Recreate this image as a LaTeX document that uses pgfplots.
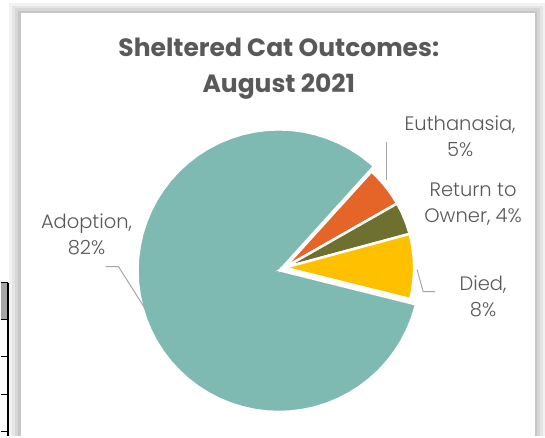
\documentclass[border=0pt]{standalone}
\usepackage{pgfplots}
\pgfplotsset{compat=1.18}
\usepgfplotslibrary{polar}
\usepackage{fontspec}
\setmainfont{Poppins}
\newfontfamily\lightfont{Poppins Light}
\definecolor{adopt}{RGB}{126,185,178}
\definecolor{euth}{RGB}{228,101,39}
\definecolor{owner}{RGB}{110,112,48}
\definecolor{died}{RGB}{255,192,0}
\definecolor{txt}{RGB}{89,89,89}
\definecolor{lead}{RGB}{166,166,166}
\begin{document}
\begin{tikzpicture}
% page and the chart frame with its shadow (1pt = 1px, y down)
\fill[white] (0,0) rectangle (545pt,-437pt);
\fill[gray!10] (8pt,-3pt) rectangle (545pt,-437pt);
\fill[gray!20] (11pt,-6pt) rectangle (543pt,-437pt);
\fill[gray!32] (14pt,-8pt) rectangle (540pt,-437pt);
\fill[gray!45] (17pt,-11pt) rectangle (537pt,-437pt);
\fill[white] (20pt,-13pt) rectangle (535pt,-437pt);
% bit of the sheet's table at the left edge
\fill[black!35] (0,-283pt) rectangle (7.5pt,-320pt);
\draw[black,line width=1.3pt] (7.5pt,-283pt) -- (7.5pt,-437pt);
\foreach \yy in {283,320,357,395,432}
  \draw[black,line width=1.3pt] (0,-\yy pt) -- (7.5pt,-\yy pt);
\begin{axis}[
  at={(0pt,0pt)}, anchor=north west,
  x=1pt, y=1pt, scale only axis,
  xmin=-278.5, xmax=266.5, ymin=-166, ymax=271,
  hide axis, clip=false,
]
% shares: Adoption 82, Euthanasia 5, Return to Owner 4, Died 8 (of 99)
\addplot[data cs=polar, fill=adopt, draw=white, line width=1.5pt]
  coordinates {(0,0) (47.82,141) (50,141) (55,141) (60,141) (65,141) (70,141)
  (75,141) (80,141) (85,141) (90,141) (95,141) (100,141) (105,141) (110,141)
  (115,141) (120,141) (125,141) (130,141) (135,141) (140,141) (145,141)
  (150,141) (155,141) (160,141) (165,141) (170,141) (175,141) (180,141)
  (185,141) (190,141) (195,141) (200,141) (205,141) (210,141) (215,141)
  (220,141) (225,141) (230,141) (235,141) (240,141) (245,141) (250,141)
  (255,141) (260,141) (265,141) (270,141) (275,141) (280,141) (285,141)
  (290,141) (295,141) (300,141) (305,141) (310,141) (315,141) (320,141)
  (325,141) (330,141) (335,141) (340,141) (345,141) (346,141)} -- cycle;
\addplot[data cs=polar, fill=euth, draw=white, line width=2.5pt, shift={(5.5pt,3pt)}]
  coordinates {(0,0) (29.64,130) (35,130) (40,130) (45,130) (47.82,130)} -- cycle;
\addplot[data cs=polar, fill=owner, draw=white, line width=2.5pt, shift={(5.5pt,3pt)}]
  coordinates {(0,0) (15.09,130) (20,130) (25,130) (29.64,130)} -- cycle;
\addplot[data cs=polar, fill=died, draw=white, line width=2.5pt, shift={(5.5pt,3pt)}]
  coordinates {(0,0) (-14,130) (-10,130) (-5,130) (0,130) (5,130) (10,130)
  (15.09,130)} -- cycle;
% leader lines
\addplot[lead, line width=1pt] coordinates {(108.2,129) (108.2,91)};
\addplot[lead, line width=1pt] coordinates {(138.5,1) (144.5,-21) (156.5,-21)};
\addplot[lead, line width=1pt] coordinates {(-173.5,4) (-160.5,4) (-134.5,-37)};
% title
\node[txt, font=\fontsize{25}{36}\selectfont\bfseries, align=center]
  at (axis cs:0,202) {Sheltered Cat Outcomes:\\August 2021};
% data labels
\begin{scope}[every node/.style={txt, align=center,
    font=\lightfont\fontsize{19.5}{26}\selectfont}]
\node at (axis cs:181.5,135) {Euthanasia,\\5\%};
\node at (axis cs:194.5,66.5) {Return to\\Owner, 4\%};
\node at (axis cs:204.5,-26) {Died,\\8\%};
\node at (axis cs:-192.5,36) {Adoption,\\82\%};
\end{scope}
\end{axis}
\end{tikzpicture}
\end{document}
